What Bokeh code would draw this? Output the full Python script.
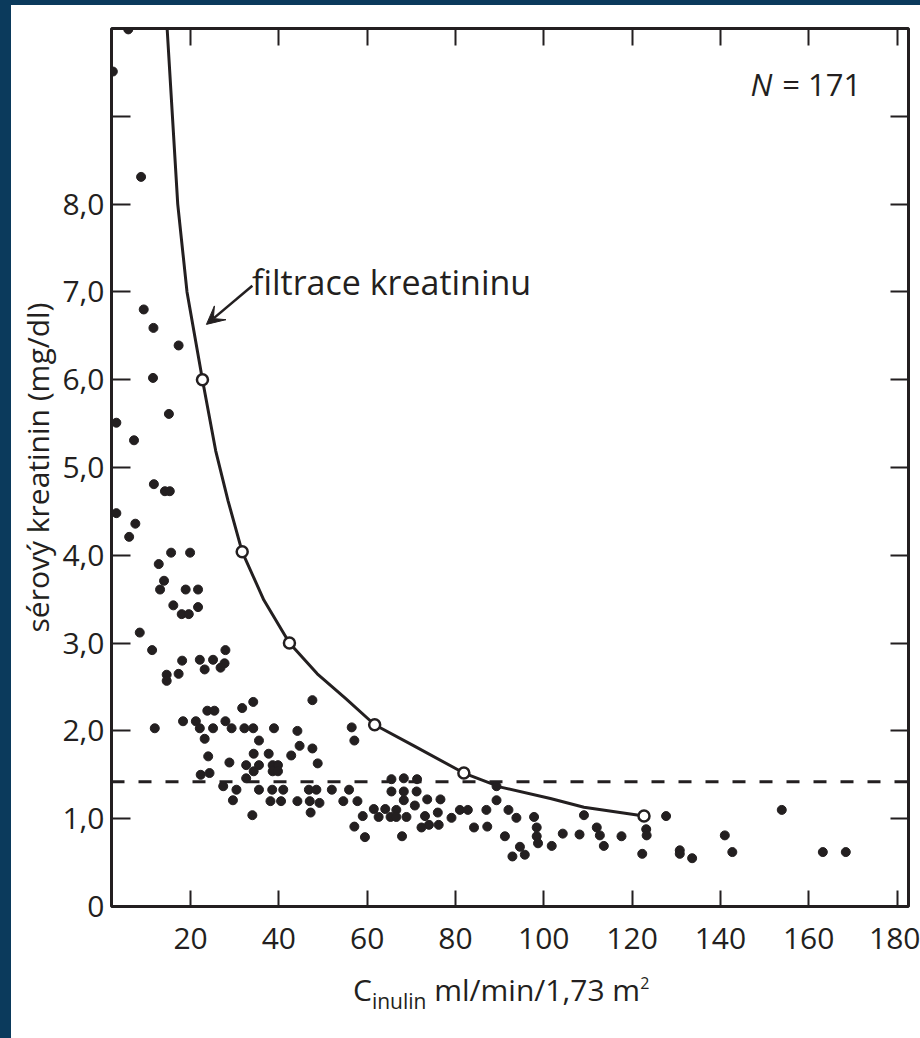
from bokeh.plotting import figure
from bokeh.models import (Range1d, LinearAxis, FixedTicker, Span, Label, Arrow, VeeHead, Div)
from bokeh.layouts import column, row
from bokeh.embed import file_html
from bokeh.resources import INLINE

# ---- data ----
# inulin clearance (ml/min/1,73 m2) and serum creatinine (mg/dl) of the patients
cinulin = [2.4, 5.9, 8.8, 9.4, 11.6, 17.3, 11.5, 15.1, 3.2, 7.2,
           11.7, 14.2, 15.3, 3.2, 7.5, 6.1, 15.6, 19.9, 12.8, 14.0,
           13.1, 18.9, 21.7, 16.1, 18.0, 19.6, 21.7, 8.5, 11.3, 18.1,
           22.1, 25.1, 27.9, 27.7, 26.8, 23.2, 17.3, 14.6, 14.6,
           23.8, 25.4, 31.7, 34.2, 11.9, 18.3, 21.2, 22.1, 25.1, 27.9,
           29.3, 32.2, 34.2, 23.2, 24.0, 28.8, 34.3, 32.6, 34.3, 22.3,
           24.3, 27.4, 30.4, 32.6, 29.6, 34.0,
           47.6, 38.9, 44.2, 56.5, 57.1, 35.5, 44.7, 47.6, 37.7, 42.8,
           48.8, 35.5, 38.6, 39.8, 38.6, 39.8, 35.5, 38.5, 41.0, 46.8,
           48.5, 52.0, 55.9, 38.1, 40.5, 44.2, 47.0, 49.2, 54.6, 57.8,
           47.2, 59.0, 61.5, 62.6, 64.1, 65.3, 57.1, 59.5,
           65.5, 68.3, 71.3, 65.5, 68.3, 71.2, 68.3, 73.6, 76.6, 66.6,
           70.8, 66.6, 68.9, 73.1, 76.0, 76.2, 74.0, 72.3, 67.9, 79.1,
           81.0, 82.8, 84.2, 87.0, 87.2, 89.3, 89.3, 92.0, 93.8, 91.2,
           94.6, 92.9, 95.7, 97.8, 98.4, 98.4, 98.7, 101.8,
           104.3, 108.1, 109.1, 112.0, 112.7, 113.6, 117.6, 123.2, 123.3, 122.3,
           127.7, 130.8, 130.8, 133.6, 141.0, 142.7, 153.9, 163.2, 168.4]
kreatinin = [9.51, 9.99, 8.31, 6.80, 6.59, 6.39, 6.02, 5.61, 5.51, 5.31,
             4.81, 4.73, 4.73, 4.48, 4.36, 4.21, 4.03, 4.03, 3.90, 3.71,
             3.61, 3.61, 3.61, 3.43, 3.33, 3.33, 3.41, 3.12, 2.92, 2.80,
             2.81, 2.81, 2.92, 2.77, 2.72, 2.70, 2.65, 2.64, 2.57,
             2.23, 2.23, 2.26, 2.33, 2.03, 2.11, 2.11, 2.03, 2.03, 2.11,
             2.03, 2.03, 2.03, 1.91, 1.71, 1.64, 1.74, 1.61, 1.54, 1.50,
             1.52, 1.37, 1.33, 1.46, 1.21, 1.04,
             2.35, 2.03, 2.00, 2.04, 1.89, 1.89, 1.83, 1.80, 1.74, 1.72,
             1.63, 1.61, 1.61, 1.61, 1.54, 1.54, 1.33, 1.33, 1.33, 1.33,
             1.33, 1.33, 1.33, 1.20, 1.20, 1.20, 1.20, 1.18, 1.20, 1.20,
             1.07, 1.03, 1.11, 1.02, 1.11, 1.02, 0.91, 0.79,
             1.45, 1.46, 1.45, 1.31, 1.31, 1.31, 1.21, 1.22, 1.22, 1.10,
             1.15, 1.02, 1.02, 1.03, 1.07, 0.93, 0.93, 0.90, 0.80, 1.01,
             1.10, 1.10, 0.90, 1.10, 0.91, 1.37, 1.21, 1.10, 1.01, 0.80,
             0.68, 0.57, 0.59, 1.02, 0.90, 0.80, 0.72, 0.69,
             0.83, 0.82, 1.04, 0.90, 0.81, 0.69, 0.80, 0.88, 0.81, 0.60,
             1.03, 0.64, 0.60, 0.55, 0.81, 0.62, 1.10, 0.62, 0.62]

# creatinine filtration curve
curve_c = [14.7, 15.9, 17.1, 19.2, 22.7, 25.7, 28.5, 31.7, 36.6, 42.4,
           48.7, 55.1, 61.7, 70.6, 81.9, 90.2, 101.5, 109.1, 122.7]
curve_s = [10.0, 9.0, 8.0, 7.0, 6.0, 5.19, 4.62, 4.04, 3.49, 3.0,
           2.65, 2.37, 2.07, 1.83, 1.52, 1.36, 1.23, 1.13, 1.03]
# open circles on the curve
marker_c = [22.7, 31.7, 42.4, 61.7, 81.9, 122.7]
marker_s = [6.0, 4.04, 3.0, 2.07, 1.52, 1.03]
# upper limit of normal (dashed line)
limit_s = 1.42

x_ticks = [20, 40, 60, 80, 100, 120, 140, 160, 180]
x_labels = ["20", "40", "60", "80", "100", "120", "140", "160", "180"]
y_ticks = [0, 1, 2, 3, 4, 5, 6, 7, 8, 9]
y_label_ticks = [0, 1, 2, 3, 4, 5, 6, 7, 8]
y_labels = ["0", "1,0", "2,0", "3,0", "4,0", "5,0", "6,0", "7,0", "8,0"]

FONT = "Open Sans"
INK = "#231f20"
NAVY = "#0b3a5c"
TICKFS = "30px"

p = figure(frame_width=797, frame_height=878,
           x_range=Range1d(2.1, 182.6), y_range=Range1d(0, 10),
           output_backend="svg", toolbar_location=None,
           min_border_left=100, min_border_right=12,
           min_border_top=23, min_border_bottom=62)
p.grid.grid_line_color = None
p.background_fill_color = "white"
p.border_fill_color = "white"
p.outline_line_color = INK
p.outline_line_width = 3


def tick_only(ax, ticks, length):
    ax.ticker = FixedTicker(ticks=ticks)
    ax.axis_line_color = None
    ax.major_tick_in = length
    ax.major_tick_out = 0
    ax.major_tick_line_color = INK
    ax.major_tick_line_width = 2
    ax.minor_tick_line_color = None
    ax.major_label_text_color = None
    ax.major_label_text_font_size = "1px"
    ax.major_label_standoff = 0


# bottom axis: ticks + labels
xa = p.xaxis[0]
xa.ticker = FixedTicker(ticks=x_ticks)
xa.major_label_overrides = {t: l for t, l in zip(x_ticks, x_labels)}
xa.axis_line_color = None
xa.major_tick_in = 16
xa.major_tick_out = 0
xa.major_tick_line_color = INK
xa.major_tick_line_width = 2
xa.minor_tick_line_color = None
xa.major_label_text_font = FONT
xa.major_label_text_font_size = TICKFS
xa.major_label_text_color = INK
xa.major_label_standoff = 21

# left: inner axis carries the tick marks (0..9)
tick_only(p.yaxis[0], y_ticks, 19)

# left: second axis carries the tick labels (0..8,0)
ylab = LinearAxis(ticker=FixedTicker(ticks=y_label_ticks))
ylab.major_label_overrides = {t: l for t, l in zip(y_label_ticks, y_labels)}
ylab.axis_line_color = None
ylab.major_tick_line_color = None
ylab.minor_tick_line_color = None
ylab.major_tick_in = 0
ylab.major_tick_out = 0
ylab.major_label_text_font = FONT
ylab.major_label_text_font_size = TICKFS
ylab.major_label_text_color = INK
ylab.major_label_standoff = 7
p.add_layout(ylab, "left")

# left: outermost axis carries the axis title
ytitle = LinearAxis(ticker=FixedTicker(ticks=[]), bounds=(0.5, 9.98))
ytitle.axis_line_color = None
ytitle.major_tick_line_color = None
ytitle.minor_tick_line_color = None
ytitle.major_tick_in = 0
ytitle.major_tick_out = 0
ytitle.major_label_text_font_size = "1px"
ytitle.major_label_standoff = 0
ytitle.axis_label = "sérový kreatinin (mg/dl)"
ytitle.axis_label_text_font = FONT
ytitle.axis_label_text_font_size = "30px"
ytitle.axis_label_text_font_style = "normal"
ytitle.axis_label_text_color = INK
ytitle.axis_label_standoff = 2
p.add_layout(ytitle, "left")

top = LinearAxis()
tick_only(top, x_ticks, 17)
p.add_layout(top, "above")
right = LinearAxis()
tick_only(right, y_ticks[1:], 18)
p.add_layout(right, "right")

# dashed limit
p.add_layout(Span(location=limit_s, dimension="width", line_color=INK,
                  line_width=3, line_dash="13 14"))

# filtration curve
p.line(curve_c, curve_s, line_color=INK, line_width=3)

# patients
p.scatter(cinulin, kreatinin, size=9, fill_color=INK, line_color=INK)

# open circles on the curve
p.scatter(marker_c, marker_s, size=11, fill_color="white",
          line_color=INK, line_width=2.5)

# annotation
p.add_layout(Label(x=33.9, y=7.11, text="filtrace kreatininu", text_font=FONT,
                   text_font_size="34px", text_color=INK, text_baseline="alphabetic"))
p.add_layout(Arrow(end=VeeHead(size=18, fill_color=INK, line_color=INK, line_width=1),
                   x_start=34.0, y_start=7.07, x_end=23.6, y_end=6.63,
                   line_color=INK, line_width=2.5))

p.add_layout(Label(x=146.8, y=9.37, text="N", text_font=FONT, text_font_size="31px",
                   text_font_style="italic", text_color=INK, text_baseline="alphabetic"))
p.add_layout(Label(x=154.0, y=9.37, text="= 171", text_font=FONT, text_font_size="31px",
                   text_color=INK, text_baseline="alphabetic"))

# x-axis title with subscript / superscript
xtitle_html = (
    '<div style="font-family:\'Open Sans\';font-size:30px;line-height:30px;'
    'color:%s;padding-left:342px;padding-top:7px;white-space:nowrap;">'
    'C<span style="font-size:21px;position:relative;top:8px;">inulin</span>'
    ' ml/min/1,73 m<span style="font-size:16px;position:relative;top:-12px;">2</span>'
    '</div>' % INK)
xtitle = Div(text=xtitle_html, width=909, height=68, margin=0)

strip_top = Div(text="", width=920, height=5, margin=0,
                styles={"background-color": NAVY})
strip_left = Div(text="", width=11, height=1033, margin=0,
                 styles={"background-color": NAVY})

page = column(strip_top, row(strip_left, column(p, xtitle, spacing=0), spacing=0),
              spacing=0)

open("out.html", "w").write(file_html(page, INLINE))
